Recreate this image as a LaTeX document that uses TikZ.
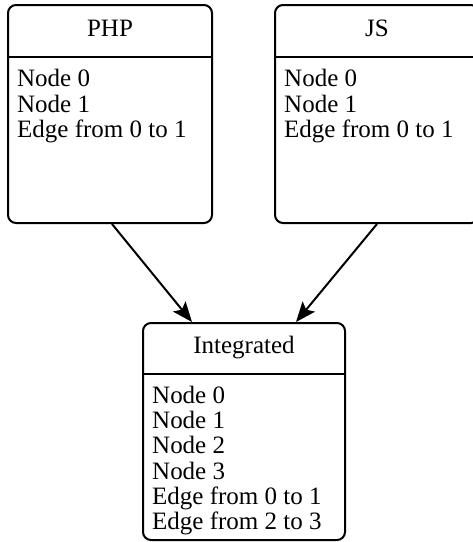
\documentclass[tikz,border=0pt]{standalone}
\usepackage{fontspec}
\setmainfont{LiberationSerif}[Extension=.ttf, UprightFont=*-Regular, BoldFont=*-Bold]
\usetikzlibrary{arrows.meta}
\begin{document}
\begin{tikzpicture}[x=1pt,y=1pt,
  box/.style={draw, line width=2pt, rounded corners=8pt, minimum width=204pt, minimum height=218pt, inner sep=0pt},
  divider/.style={line width=2.4pt},
  ttl/.style={anchor=base, inner sep=0pt, font=\rmfamily\fontsize{25}{26}\selectfont},
  txt/.style={anchor=base west, inner sep=0pt, font=\rmfamily\fontsize{25}{26}\selectfont},
  conn/.style={line width=2pt, -{Stealth[length=20pt, width=16pt, inset=4pt]}}
]
\useasboundingbox (0,0) rectangle (473,-542);
\clip (0,0) rectangle (473,-542);
% boxes
\node[box] (php) at (110,-114) {};
\node[box] (js) at (377,-114) {};
\node[box, minimum width=202pt, minimum height=217pt] (integ) at (244,-431.5) {};
% dividers
\draw[divider] (php.west |- 0,-57) -- (php.east |- 0,-57);
\draw[divider] (js.west |- 0,-57) -- (js.east |- 0,-57);
\draw[divider] (integ.west |- 0,-374) -- (integ.east |- 0,-374);
% titles
\node[ttl] (phpt) at (110,-36) {PHP};
\node[ttl] (jst) at (377,-36) {JS};
\node[ttl] (integt) at (244,-353) {Integrated};
% contents
\foreach \t [count=\i] in {Node 0, Node 1, Edge from 0 to 1}
  \node[txt, name=phpl\i] at (17,{-86.7-25.4*(\i-1)}) {\t};
\foreach \t [count=\i] in {Node 0, Node 1, Edge from 0 to 1}
  \node[txt, name=jsl\i] at (284,{-86.7-25.4*(\i-1)}) {\t};
\foreach \t [count=\i] in {Node 0, Node 1, Node 2, Node 3, Edge from 0 to 1, Edge from 2 to 3}
  \node[txt, name=intl\i] at (152,{-403.3-25.3*(\i-1)}) {\t};
% connectors
\draw[conn] ([xshift=2pt]php.south) -- ([xshift=-52pt]integ.north);
\draw[conn] (js.south) -- ([xshift=52pt]integ.north);
\end{tikzpicture}
\end{document}
